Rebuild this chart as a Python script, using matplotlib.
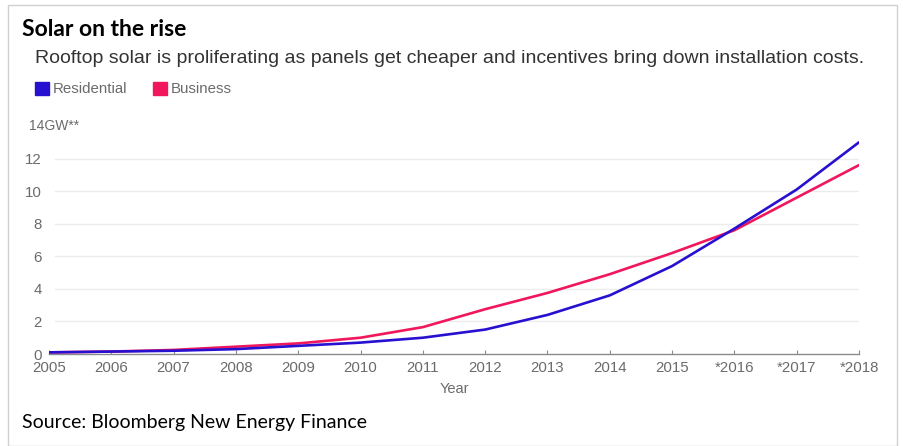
import matplotlib.pyplot as plt
from matplotlib.patches import Rectangle

years = [2005, 2006, 2007, 2008, 2009, 2010, 2011, 2012, 2013, 2014, 2015, 2016, 2017, 2018]
year_labels = ['2005', '2006', '2007', '2008', '2009', '2010', '2011', '2012',
               '2013', '2014', '2015', '*2016', '*2017', '*2018']
residential = [0.1, 0.15, 0.2, 0.3, 0.5, 0.7, 1.0, 1.5, 2.4, 3.6, 5.4, 7.7, 10.1, 13.0]
business = [0.1, 0.15, 0.25, 0.45, 0.65, 1.0, 1.65, 2.75, 3.75, 4.9, 6.2, 7.6, 9.6, 11.6]
y_ticks = [0, 2, 4, 6, 8, 10, 12]

BLUE = '#2710d0'
PINK = '#f0175c'
GREY = '#6b6b6b'
SANS = ['Liberation Sans', 'DejaVu Sans']

fig = plt.figure(figsize=(9.04, 4.46), dpi=100)
W, H = 904, 446

# frame around the whole graphic
fig.patches.append(Rectangle((8 / W, 0.0), 889 / W, 1 - 5 / H, transform=fig.transFigure,
                             fill=False, edgecolor='#d0d0d0', linewidth=1.0))

ax = fig.add_axes([49 / W, 1 - 354 / H, 810 / W, (354 - 126) / H])
ax.plot(years, business, color=PINK, lw=1.9, solid_capstyle='round', zorder=3)
ax.plot(years, residential, color=BLUE, lw=1.9, solid_capstyle='round', zorder=3)

ax.set_xlim(2005, 2018)
ax.set_ylim(0, 14)
ax.set_xticks(years)
ax.set_xticklabels(year_labels)
ax.set_yticks(y_ticks)
ax.tick_params(axis='x', colors='#8a8a8a', length=3, width=0.8, direction='in', pad=5)
ax.tick_params(axis='y', length=0, pad=5)
for t in ax.get_xticklabels() + ax.get_yticklabels():
    t.set_color(GREY)
    t.set_fontsize(10.8)
    t.set_family(SANS)
for y in y_ticks[1:]:
    ax.axhline(y, xmin=0.008, color='#ececec', lw=1.0, zorder=1)
for s in ['top', 'right', 'left']:
    ax.spines[s].set_visible(False)
ax.spines['bottom'].set_color('#8a8a8a')
ax.spines['bottom'].set_linewidth(1.0)
ax.set_xlabel('Year', color=GREY, fontsize=10.5, family=SANS, labelpad=5)
ax.text(-0.025, 14, '14GW**', transform=ax.get_yaxis_transform(), color=GREY,
        fontsize=10, family=SANS, ha='left', va='center')

# titles and legend
fig.text(22 / W, 1 - 36 / H, 'Solar on the rise', fontsize=16.5, fontweight='bold',
         family='Lato', va='baseline', ha='left')
fig.text(35 / W, 1 - 63 / H,
         'Rooftop solar is proliferating as panels get cheaper and incentives bring down installation costs.',
         fontsize=14, color='#333333', family=SANS, va='baseline', ha='left')
for x0, col, lab in [(35, BLUE, 'Residential'), (153, PINK, 'Business')]:
    fig.patches.append(Rectangle((x0 / W, 1 - 95 / H), 14 / W, 13 / H,
                                 transform=fig.transFigure, color=col))
    fig.text((x0 + 18) / W, 1 - 93 / H, lab, fontsize=10.8, color=GREY, family=SANS,
             va='baseline', ha='left')

fig.text(22 / W, 1 - 428 / H, 'Source: Bloomberg New Energy Finance', fontsize=14,
         family='Lato', va='baseline', ha='left')

fig.savefig('out.png', dpi=100)
